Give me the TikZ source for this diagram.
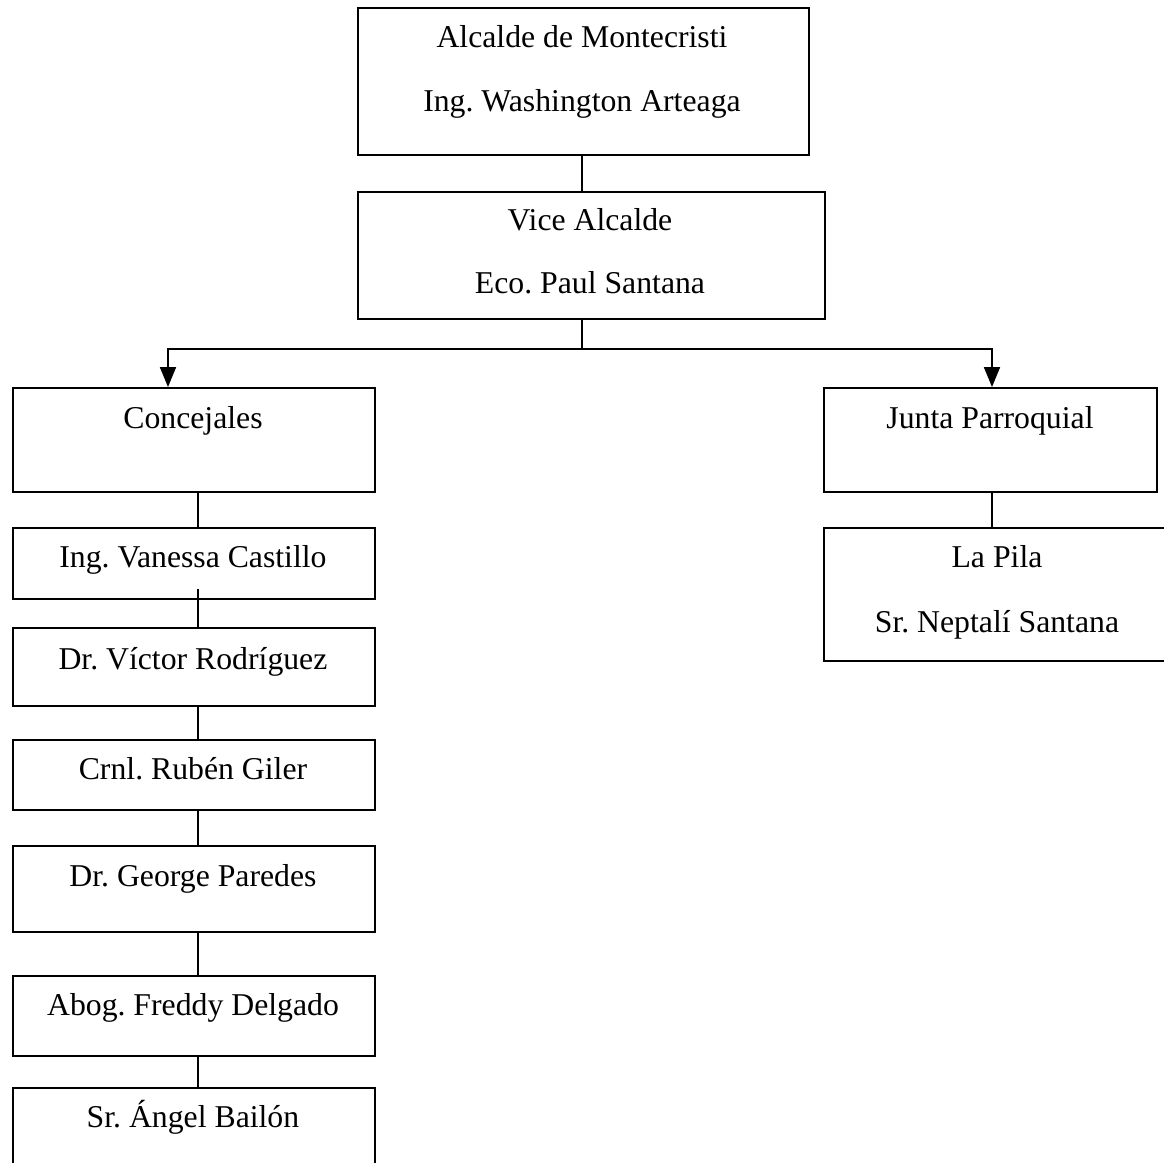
\documentclass[tikz,border=0pt]{standalone}
\usepackage{fontspec}
\setmainfont{Liberation Serif}
\usetikzlibrary{arrows.meta}
\frenchspacing
\newcommand{\pxu}{0.378pt}
\tikzset{
  box/.style={draw, line width=0.75pt, inner sep=0pt, anchor=north west},
  txt/.style={anchor=base, inner sep=0pt, font=\fontsize{12}{14.4}\selectfont},
  link/.style={line width=0.75pt},
  down/.style={line width=0.75pt, -{Triangle[width=6pt,length=7.5pt]}}
}
\begin{document}
\begin{tikzpicture}[x=\pxu, y=-\pxu]
\useasboundingbox (0,0) rectangle (1164,1163);
\clip (0,0) rectangle (1164,1163);
% top of the chart
\node[box, minimum width=451*\pxu, minimum height=147*\pxu] (alc) at (357,7){};
\node[txt] (alcT1) at (582,47){Alcalde de Montecristi};
\node[txt] (alcT2) at (582,111){Ing. Washington Arteaga};
\node[box, minimum width=467*\pxu, minimum height=127*\pxu] (vice) at (357,191){};
\node[txt] (viceT1) at (590,230){Vice Alcalde};
\node[txt] (viceT2) at (590,293){Eco. Paul Santana};
% second level
\node[box, minimum width=362*\pxu, minimum height=104*\pxu] (conc) at (12,387){};
\node[txt] (concT) at (193,428){Concejales};
\node[box, minimum width=333*\pxu, minimum height=104*\pxu] (junta) at (823,387){};
\node[txt] (juntaT) at (990,428){Junta Parroquial};
\node[box, minimum width=348*\pxu, minimum height=133*\pxu] (pila) at (823,527){};
\node[txt] (pilaT1) at (997,567){La Pila};
\node[txt] (pilaT2) at (997,632){Sr. Neptalí Santana};
% concejales
\node[box, minimum width=362*\pxu, minimum height=71*\pxu] (vane) at (12,527){};
\node[txt] (vaneT) at (193,567){Ing. Vanessa Castillo};
\node[box, minimum width=362*\pxu, minimum height=78*\pxu] (vic) at (12,627){};
\node[txt] (vicT) at (193,669){Dr. Víctor Rodríguez};
\node[box, minimum width=362*\pxu, minimum height=70*\pxu] (crnl) at (12,739){};
\node[txt] (crnlT) at (193,779){Crnl. Rubén Giler};
\node[box, minimum width=362*\pxu, minimum height=86*\pxu] (geo) at (12,845){};
\node[txt] (geoT) at (193,886){Dr. George Paredes};
\node[box, minimum width=362*\pxu, minimum height=80*\pxu] (fred) at (12,975){};
\node[txt] (fredT) at (193,1015){Abog. Freddy Delgado};
\node[box, minimum width=362*\pxu, minimum height=90*\pxu] (angel) at (12,1087){};
\node[txt] (angelT) at (193,1127){Sr. Ángel Bailón};
% connectors
\coordinate (split) at (582,349);
\coordinate (lft) at (168,349);
\coordinate (rgt) at (992,349);
\coordinate (chain) at (198,0);
\draw[link] (alc.south -| split) -- (vice.north -| split);
\draw[link] (vice.south -| split) -- (split);
\draw[down] (split) -- (lft) -- (lft |- conc.north);
\draw[down] (split) -- (rgt) -- (rgt |- junta.north);
\draw[link] (junta.south -| rgt) -- (pila.north -| rgt);
\draw[link] (conc.south -| chain) -- (vane.north -| chain);
\draw[link] (vane.south -| chain) ++(0,-11) -- (vic.north -| chain);
\draw[link] (vic.south -| chain) -- (crnl.north -| chain);
\draw[link] (crnl.south -| chain) -- (geo.north -| chain);
\draw[link] (geo.south -| chain) -- (fred.north -| chain);
\draw[link] (fred.south -| chain) -- (angel.north -| chain);
\end{tikzpicture}
\end{document}
